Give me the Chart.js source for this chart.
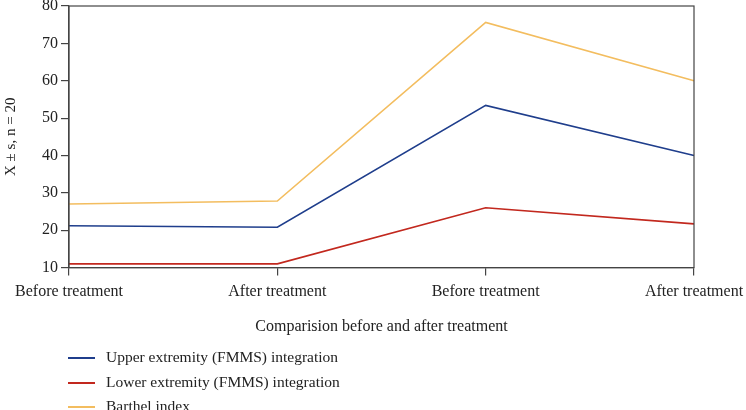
<!DOCTYPE html>
<html>
<head>
<meta charset="utf-8">
<script src="https://cdn.jsdelivr.net/npm/chart.js@4/dist/chart.umd.min.js"></script>
<style>
  html, body { margin: 0; padding: 0; background: #fff; }
  #wrap { position: relative; width: 746px; height: 410px; overflow: hidden; }
  #legend { position: absolute; left: 68px; top: 345px; font-family: "Liberation Serif", "Times New Roman", serif; font-size: 15.5px; color: #222; }
  #legend div { height: 24.5px; line-height: 24.5px; white-space: nowrap; }
  #legend span.swatch { display: inline-block; width: 27px; height: 2px; vertical-align: middle; margin-right: 11px; }
</style>
</head>
<body>
<div id="wrap">
  <canvas id="c" width="746" height="410"></canvas>
  <div id="legend"></div>
</div>
<script>
const categories = ['Before treatment', 'After treatment', 'Before treatment', 'After treatment'];
const upperLimb = [21.2, 20.8, 53.4, 40.0];
const lowerLimb = [11.0, 11.0, 26.0, 21.7];
const barthel = [27.0, 27.8, 75.6, 60.0];
const yTicks = [10, 20, 30, 40, 50, 60, 70, 80];

const COLORS = { upper: '#1f3e8c', lower: '#c2281e', barthel: '#f3bd5f', ink: '#222', axis: '#444' };
const FONT = '"Liberation Serif", "Times New Roman", serif';

const series = [
  { label: 'Upper extremity (FMMS) integration', data: upperLimb, color: COLORS.upper },
  { label: 'Lower extremity (FMMS) integration', data: lowerLimb, color: COLORS.lower },
  { label: 'Barthel index', data: barthel, color: COLORS.barthel },
];

// frame around the plot area (top + right edges)
const frame = {
  id: 'frame',
  afterDraw(chart) {
    const { ctx, chartArea: a } = chart;
    ctx.save();
    ctx.strokeStyle = COLORS.axis;
    ctx.lineWidth = 1.2;
    ctx.strokeRect(a.left, a.top, a.right - a.left, a.bottom - a.top);
    ctx.restore();
  }
};

new Chart(document.getElementById('c'), {
  type: 'line',
  data: {
    labels: categories,
    datasets: series.map(s => ({
      label: s.label, data: s.data,
      borderColor: s.color, backgroundColor: s.color,
      borderWidth: 1.6, pointRadius: 0, tension: 0, fill: false,
    })),
  },
  options: {
    responsive: false,
    animation: false,
    layout: { padding: { top: 0, bottom: 70, left: 0, right: 0 } },
    plugins: { legend: { display: false }, tooltip: { enabled: false } },
    scales: {
      x: {
        offset: false,
        afterFit: (s) => { s.paddingRight = 52; },
        grid: { drawOnChartArea: false, color: COLORS.axis, tickLength: 8, lineWidth: 1.2 },
        border: { color: COLORS.axis, width: 1.2 },
        ticks: { color: COLORS.ink, font: { family: FONT, size: 16 }, maxRotation: 0, autoSkip: false, padding: 7 },
        title: { display: true, text: 'Comparision before and after treatment', color: COLORS.ink, font: { family: FONT, size: 16 }, padding: { top: 8 } },
      },
      y: {
        min: 10, max: 80,
        afterFit: (s) => { s.paddingTop = 6; },
        afterBuildTicks: (axis) => { axis.ticks = yTicks.map(v => ({ value: v })); },
        grid: { drawOnChartArea: false, color: COLORS.axis, tickLength: 8, lineWidth: 1.2 },
        border: { color: COLORS.axis, width: 1.2 },
        ticks: { color: COLORS.ink, font: { family: FONT, size: 16 }, padding: 3 },
        title: { display: true, text: 'X ± s, n = 20', color: COLORS.ink, font: { family: FONT, size: 15 }, padding: { top: 2, bottom: 19 } },
      },
    },
  },
  plugins: [frame],
});

const legend = document.getElementById('legend');
series.forEach(s => {
  const row = document.createElement('div');
  row.innerHTML = '<span class="swatch" style="background:' + s.color + '"></span>' + s.label;
  legend.appendChild(row);
});
</script>
</body>
</html>
